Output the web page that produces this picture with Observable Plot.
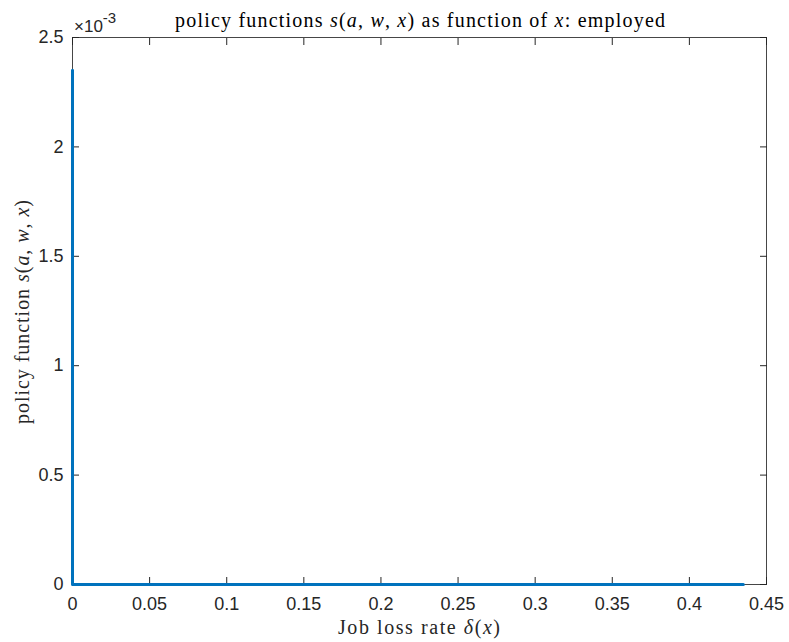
<!DOCTYPE html>
<html>
<head>
<meta charset="utf-8">
<script src="https://cdn.jsdelivr.net/npm/d3@7"></script>
<script src="https://cdn.jsdelivr.net/npm/@observablehq/plot@0.6"></script>
<style>
  html, body { margin: 0; padding: 0; background: #fff; }
  #chart svg { display: block; }
</style>
</head>
<body>
<div id="chart"></div>
<script>
// Savings policy s(a, w, x) for the employed, against the job loss rate δ(x)
const delta = [0, 0, 0.435];
const policy = [0.00235, 0, 0];

const xTicks = [0, 0.05, 0.1, 0.15, 0.2, 0.25, 0.3, 0.35, 0.4, 0.45];
const yTicks = [0, 0.0005, 0.001, 0.0015, 0.002, 0.0025];

const data = delta.map((d, i) => ({delta: d, s: policy[i]}));

const W = 789, H = 642;
const M = {top: 37, right: 23, bottom: 58, left: 72};
const axisColor = "#262626";
const sans = "'Liberation Sans', Arial, Helvetica, sans-serif";
const serif = "'Liberation Serif', 'DejaVu Serif', serif";

const fmtX = d => String(+d.toFixed(2));
const fmtY = d => String(+(d * 1000).toFixed(1));

const plot = Plot.plot({
  width: W,
  height: H,
  marginTop: M.top,
  marginRight: M.right,
  marginBottom: M.bottom,
  marginLeft: M.left,
  style: {fontFamily: sans, fontSize: "18px", color: axisColor, background: "#fff"},
  x: {domain: [0, 0.45], label: null},
  y: {domain: [0, 0.0025], label: null},
  marks: [
    Plot.frame({stroke: axisColor, strokeWidth: 1, strokeOpacity: 0.85}),
    Plot.axisX({anchor: "bottom", ticks: xTicks, tickSize: -7, tickPadding: 20, tickFormat: fmtX, label: null, fontSize: 18}),
    Plot.axisX({anchor: "top", ticks: xTicks, tickSize: -7, tickFormat: () => "", label: null}),
    Plot.axisY({anchor: "left", ticks: yTicks, tickSize: -7, tickPadding: 16, tickFormat: fmtY, label: null, fontSize: 18}),
    Plot.axisY({anchor: "right", ticks: yTicks, tickSize: -7, tickFormat: () => "", label: null}),
    Plot.line(data, {x: "delta", y: "s", stroke: "#0072BD", strokeWidth: 3})
  ]
});

document.getElementById("chart").appendChild(plot);

const svg = d3.select(plot);

function richText(sel, parts) {
  parts.forEach(([t, it]) => sel.append("tspan").attr("font-style", it ? "italic" : "normal").text(t));
  return sel;
}

// Title with italic math parts
richText(
  svg.append("text")
    .attr("x", 420).attr("y", 27)
    .attr("text-anchor", "middle")
    .attr("textLength", 490).attr("lengthAdjust", "spacing")
    .attr("font-family", serif).attr("font-size", 20).attr("fill", "#000"),
  [["policy functions ", false], ["s", true], ["(", false], ["a", true], [", ", false], ["w", true], [", ", false], ["x", true], [")", false],
   [" as function of ", false], ["x", true], [": employed", false]]
);

// Exponent multiplier above the y axis
const expo = svg.append("text")
  .attr("x", M.left + 2).attr("y", 32)
  .attr("text-anchor", "start")
  .attr("font-family", sans).attr("font-size", 17).attr("fill", axisColor);
expo.append("tspan").text("×10");
expo.append("tspan").attr("dy", -9).attr("font-size", 15).text("-3");

// x axis label
richText(
  svg.append("text")
    .attr("x", 419).attr("y", 634)
    .attr("text-anchor", "middle")
    .attr("textLength", 162).attr("lengthAdjust", "spacing")
    .attr("font-family", serif).attr("font-size", 20).attr("fill", axisColor),
  [["Job loss rate ", false], ["δ", true], ["(", false], ["x", true], [")", false]]
);

// y axis label
richText(
  svg.append("text")
    .attr("transform", `translate(29,312) rotate(-90)`)
    .attr("text-anchor", "middle")
    .attr("textLength", 224).attr("lengthAdjust", "spacing")
    .attr("font-family", serif).attr("font-size", 20).attr("fill", axisColor),
  [["policy function ", false], ["s", true], ["(", false], ["a", true], [", ", false], ["w", true], [", ", false], ["x", true], [")", false]]
);
</script>
</body>
</html>
